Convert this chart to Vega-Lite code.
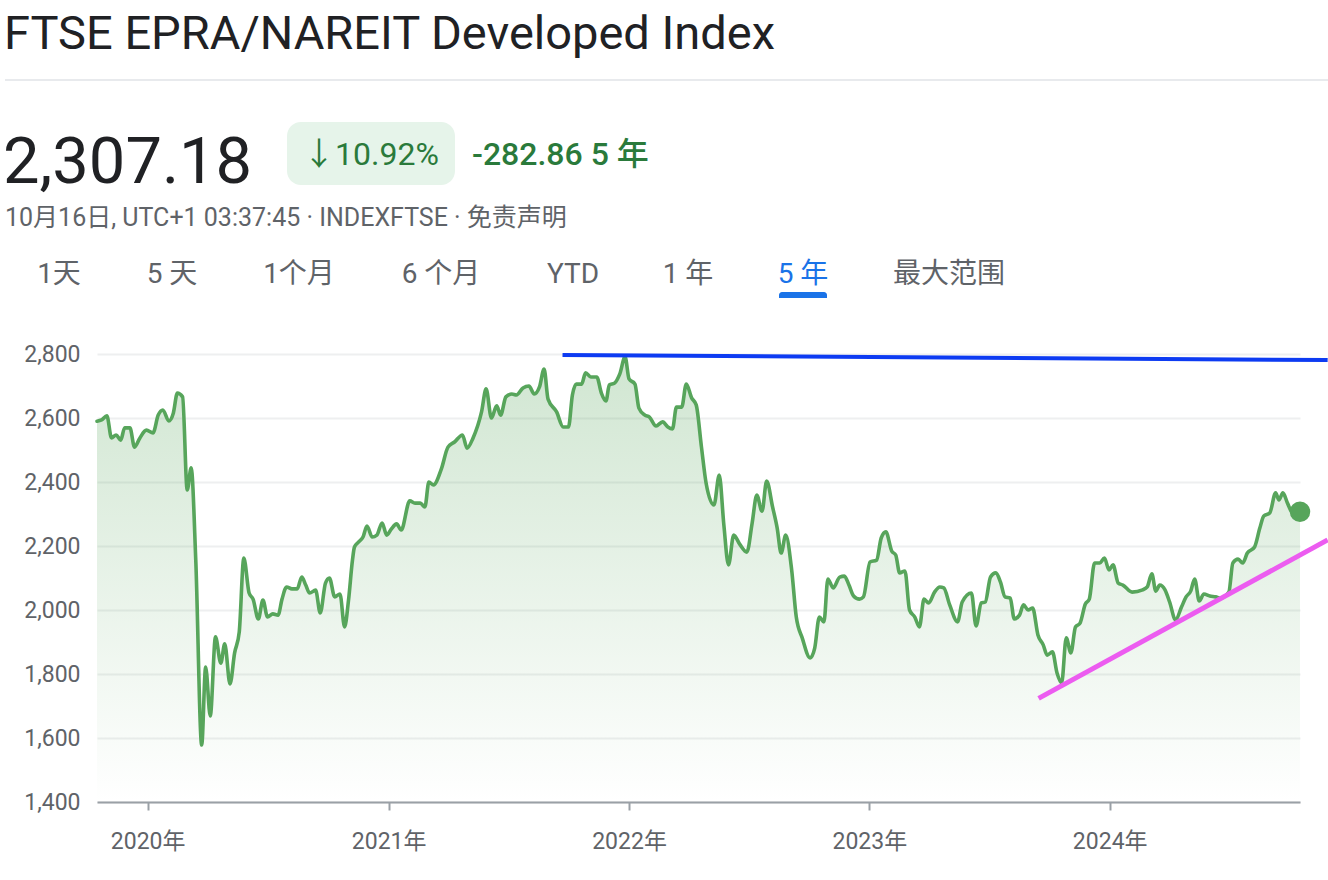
{
  "$schema": "https://vega.github.io/schema/vega-lite/v6.json",
  "width": 1203,
  "height": 448,
  "autosize": {"type": "none"},
  "padding": {"left": 97, "top": 354, "right": 28, "bottom": 78},
  "background": "#ffffff",
  "config": {
    "view": {"stroke": null},
    "font": "Roboto, Noto Sans CJK SC, sans-serif",
    "text": {"font": "Roboto, Noto Sans CJK SC, sans-serif"}
  },
  "datasets": {
    "index": [
      {"date": "2019-10-16", "value": 2590.04},
      {"date": "2019-10-23", "value": 2594},
      {"date": "2019-10-31", "value": 2607},
      {"date": "2019-11-07", "value": 2538},
      {"date": "2019-11-14", "value": 2547},
      {"date": "2019-11-21", "value": 2531},
      {"date": "2019-11-27", "value": 2569},
      {"date": "2019-12-05", "value": 2569},
      {"date": "2019-12-12", "value": 2509},
      {"date": "2019-12-20", "value": 2537},
      {"date": "2019-12-30", "value": 2562},
      {"date": "2020-01-09", "value": 2553},
      {"date": "2020-01-17", "value": 2609},
      {"date": "2020-01-24", "value": 2625},
      {"date": "2020-02-02", "value": 2591},
      {"date": "2020-02-09", "value": 2616},
      {"date": "2020-02-15", "value": 2678},
      {"date": "2020-02-23", "value": 2666},
      {"date": "2020-03-01", "value": 2375},
      {"date": "2020-03-07", "value": 2444},
      {"date": "2020-03-14", "value": 2156},
      {"date": "2020-03-23", "value": 1578},
      {"date": "2020-03-29", "value": 1822},
      {"date": "2020-04-05", "value": 1669},
      {"date": "2020-04-13", "value": 1916},
      {"date": "2020-04-21", "value": 1834},
      {"date": "2020-04-27", "value": 1894},
      {"date": "2020-05-05", "value": 1769},
      {"date": "2020-05-12", "value": 1866},
      {"date": "2020-05-19", "value": 1931},
      {"date": "2020-05-26", "value": 2162},
      {"date": "2020-06-03", "value": 2053},
      {"date": "2020-06-09", "value": 2034},
      {"date": "2020-06-17", "value": 1972},
      {"date": "2020-06-24", "value": 2031},
      {"date": "2020-07-01", "value": 1978},
      {"date": "2020-07-09", "value": 1988},
      {"date": "2020-07-17", "value": 1984},
      {"date": "2020-07-23", "value": 2034},
      {"date": "2020-07-30", "value": 2072},
      {"date": "2020-08-07", "value": 2066},
      {"date": "2020-08-15", "value": 2066},
      {"date": "2020-08-22", "value": 2103},
      {"date": "2020-08-28", "value": 2078},
      {"date": "2020-09-03", "value": 2053},
      {"date": "2020-09-12", "value": 2062},
      {"date": "2020-09-19", "value": 1991},
      {"date": "2020-09-27", "value": 2084},
      {"date": "2020-10-03", "value": 2100},
      {"date": "2020-10-11", "value": 2041},
      {"date": "2020-10-19", "value": 2050},
      {"date": "2020-10-26", "value": 1947},
      {"date": "2020-11-01", "value": 2031},
      {"date": "2020-11-07", "value": 2156},
      {"date": "2020-11-10", "value": 2197},
      {"date": "2020-11-16", "value": 2212},
      {"date": "2020-11-23", "value": 2228},
      {"date": "2020-11-29", "value": 2262},
      {"date": "2020-12-07", "value": 2228},
      {"date": "2020-12-14", "value": 2234},
      {"date": "2020-12-22", "value": 2272},
      {"date": "2020-12-29", "value": 2234},
      {"date": "2021-01-05", "value": 2253},
      {"date": "2021-01-13", "value": 2269},
      {"date": "2021-01-20", "value": 2250},
      {"date": "2021-02-02", "value": 2341},
      {"date": "2021-02-10", "value": 2334},
      {"date": "2021-02-18", "value": 2334},
      {"date": "2021-02-25", "value": 2322},
      {"date": "2021-03-03", "value": 2400},
      {"date": "2021-03-10", "value": 2391},
      {"date": "2021-03-22", "value": 2441},
      {"date": "2021-04-01", "value": 2509},
      {"date": "2021-04-11", "value": 2525},
      {"date": "2021-04-23", "value": 2547},
      {"date": "2021-04-30", "value": 2506},
      {"date": "2021-05-09", "value": 2537},
      {"date": "2021-05-22", "value": 2619},
      {"date": "2021-05-29", "value": 2691},
      {"date": "2021-06-06", "value": 2600},
      {"date": "2021-06-14", "value": 2638},
      {"date": "2021-06-20", "value": 2609},
      {"date": "2021-06-28", "value": 2666},
      {"date": "2021-07-07", "value": 2675},
      {"date": "2021-07-14", "value": 2672},
      {"date": "2021-07-24", "value": 2694},
      {"date": "2021-08-02", "value": 2700},
      {"date": "2021-08-10", "value": 2675},
      {"date": "2021-08-18", "value": 2697},
      {"date": "2021-08-25", "value": 2753},
      {"date": "2021-08-31", "value": 2659},
      {"date": "2021-09-13", "value": 2619},
      {"date": "2021-09-23", "value": 2572},
      {"date": "2021-10-01", "value": 2572},
      {"date": "2021-10-07", "value": 2672},
      {"date": "2021-10-13", "value": 2706},
      {"date": "2021-10-21", "value": 2706},
      {"date": "2021-10-27", "value": 2741},
      {"date": "2021-11-04", "value": 2728},
      {"date": "2021-11-13", "value": 2728},
      {"date": "2021-11-20", "value": 2678},
      {"date": "2021-11-27", "value": 2653},
      {"date": "2021-12-02", "value": 2703},
      {"date": "2021-12-10", "value": 2709},
      {"date": "2021-12-18", "value": 2738},
      {"date": "2021-12-26", "value": 2791},
      {"date": "2022-01-01", "value": 2722},
      {"date": "2022-01-10", "value": 2706},
      {"date": "2022-01-16", "value": 2631},
      {"date": "2022-01-25", "value": 2609},
      {"date": "2022-02-01", "value": 2603},
      {"date": "2022-02-11", "value": 2575},
      {"date": "2022-02-21", "value": 2588},
      {"date": "2022-03-01", "value": 2572},
      {"date": "2022-03-08", "value": 2566},
      {"date": "2022-03-14", "value": 2634},
      {"date": "2022-03-22", "value": 2634},
      {"date": "2022-03-29", "value": 2706},
      {"date": "2022-04-06", "value": 2663},
      {"date": "2022-04-13", "value": 2641},
      {"date": "2022-04-21", "value": 2509},
      {"date": "2022-04-28", "value": 2397},
      {"date": "2022-05-10", "value": 2328},
      {"date": "2022-05-18", "value": 2422},
      {"date": "2022-05-25", "value": 2266},
      {"date": "2022-06-01", "value": 2141},
      {"date": "2022-06-09", "value": 2234},
      {"date": "2022-06-18", "value": 2206},
      {"date": "2022-06-29", "value": 2181},
      {"date": "2022-07-07", "value": 2272},
      {"date": "2022-07-14", "value": 2359},
      {"date": "2022-07-22", "value": 2309},
      {"date": "2022-07-29", "value": 2403},
      {"date": "2022-08-07", "value": 2322},
      {"date": "2022-08-14", "value": 2256},
      {"date": "2022-08-20", "value": 2178},
      {"date": "2022-08-27", "value": 2234},
      {"date": "2022-09-05", "value": 2125},
      {"date": "2022-09-12", "value": 1978},
      {"date": "2022-09-21", "value": 1913},
      {"date": "2022-10-03", "value": 1850},
      {"date": "2022-10-10", "value": 1881},
      {"date": "2022-10-17", "value": 1978},
      {"date": "2022-10-24", "value": 1963},
      {"date": "2022-10-30", "value": 2097},
      {"date": "2022-11-07", "value": 2069},
      {"date": "2022-11-17", "value": 2103},
      {"date": "2022-11-24", "value": 2106},
      {"date": "2022-12-01", "value": 2078},
      {"date": "2022-12-08", "value": 2044},
      {"date": "2022-12-17", "value": 2034},
      {"date": "2022-12-23", "value": 2041},
      {"date": "2023-01-02", "value": 2150},
      {"date": "2023-01-12", "value": 2156},
      {"date": "2023-01-19", "value": 2225},
      {"date": "2023-01-26", "value": 2244},
      {"date": "2023-02-04", "value": 2184},
      {"date": "2023-02-10", "value": 2172},
      {"date": "2023-02-16", "value": 2116},
      {"date": "2023-02-24", "value": 2122},
      {"date": "2023-03-03", "value": 2000},
      {"date": "2023-03-11", "value": 1978},
      {"date": "2023-03-18", "value": 1947},
      {"date": "2023-03-25", "value": 2034},
      {"date": "2023-04-01", "value": 2022},
      {"date": "2023-04-10", "value": 2056},
      {"date": "2023-04-18", "value": 2072},
      {"date": "2023-04-24", "value": 2069},
      {"date": "2023-05-03", "value": 2016},
      {"date": "2023-05-15", "value": 1963},
      {"date": "2023-05-22", "value": 2025},
      {"date": "2023-06-05", "value": 2053},
      {"date": "2023-06-12", "value": 1950},
      {"date": "2023-06-20", "value": 2022},
      {"date": "2023-06-26", "value": 2025},
      {"date": "2023-07-04", "value": 2103},
      {"date": "2023-07-12", "value": 2116},
      {"date": "2023-07-19", "value": 2088},
      {"date": "2023-07-26", "value": 2041},
      {"date": "2023-08-03", "value": 2037},
      {"date": "2023-08-09", "value": 1972},
      {"date": "2023-08-17", "value": 1984},
      {"date": "2023-08-23", "value": 2016},
      {"date": "2023-08-30", "value": 2000},
      {"date": "2023-09-06", "value": 2006},
      {"date": "2023-09-14", "value": 1922},
      {"date": "2023-09-22", "value": 1891},
      {"date": "2023-09-28", "value": 1859},
      {"date": "2023-10-06", "value": 1869},
      {"date": "2023-10-13", "value": 1803},
      {"date": "2023-10-20", "value": 1772},
      {"date": "2023-10-27", "value": 1913},
      {"date": "2023-11-03", "value": 1866},
      {"date": "2023-11-10", "value": 1947},
      {"date": "2023-11-17", "value": 1959},
      {"date": "2023-11-25", "value": 2019},
      {"date": "2023-12-01", "value": 2034},
      {"date": "2023-12-09", "value": 2147},
      {"date": "2023-12-17", "value": 2147},
      {"date": "2023-12-24", "value": 2162},
      {"date": "2023-12-31", "value": 2125},
      {"date": "2024-01-06", "value": 2141},
      {"date": "2024-01-14", "value": 2084},
      {"date": "2024-01-21", "value": 2078},
      {"date": "2024-02-04", "value": 2056},
      {"date": "2024-02-20", "value": 2063},
      {"date": "2024-02-27", "value": 2072},
      {"date": "2024-03-05", "value": 2113},
      {"date": "2024-03-11", "value": 2059},
      {"date": "2024-03-17", "value": 2078},
      {"date": "2024-03-25", "value": 2063},
      {"date": "2024-04-01", "value": 2025},
      {"date": "2024-04-10", "value": 1969},
      {"date": "2024-04-19", "value": 2009},
      {"date": "2024-04-26", "value": 2041},
      {"date": "2024-05-03", "value": 2059},
      {"date": "2024-05-09", "value": 2097},
      {"date": "2024-05-16", "value": 2028},
      {"date": "2024-05-23", "value": 2050},
      {"date": "2024-06-01", "value": 2044},
      {"date": "2024-06-10", "value": 2041},
      {"date": "2024-06-17", "value": 2037},
      {"date": "2024-06-30", "value": 2056},
      {"date": "2024-07-06", "value": 2147},
      {"date": "2024-07-14", "value": 2159},
      {"date": "2024-07-21", "value": 2147},
      {"date": "2024-07-28", "value": 2178},
      {"date": "2024-08-08", "value": 2197},
      {"date": "2024-08-16", "value": 2256},
      {"date": "2024-08-22", "value": 2294},
      {"date": "2024-08-31", "value": 2303},
      {"date": "2024-09-09", "value": 2366},
      {"date": "2024-09-14", "value": 2344},
      {"date": "2024-09-20", "value": 2366},
      {"date": "2024-09-27", "value": 2334},
      {"date": "2024-10-05", "value": 2303},
      {"date": "2024-10-16", "value": 2307.18}
    ],
    "resistance": [
      {"date": "2021-09-22", "value": 2797},
      {"date": "2024-11-27", "value": 2781}
    ],
    "support": [
      {"date": "2023-09-15", "value": 1724},
      {"date": "2024-11-27", "value": 2219}
    ]
  },
  "layer": [
    {
      "data": {"name": "index"},
      "mark": {
        "type": "area",
        "interpolate": "monotone",
        "color": {
          "gradient": "linear",
          "x1": 0, "y1": 0, "x2": 0, "y2": 1,
          "stops": [
            {"offset": 0, "color": "rgba(87,165,91,0.28)"},
            {"offset": 1, "color": "rgba(87,165,91,0)"}
          ]
        }
      },
      "encoding": {
        "x": {
          "field": "date",
          "type": "temporal",
          "scale": {
            "type": "utc",
            "domain": [
              {"year": 2019, "month": 10, "date": 16, "utc": true},
              {"year": 2024, "month": 10, "date": 16, "utc": true}
            ]
          },
          "axis": {
            "title": null,
            "grid": false,
            "values": [
              {"year": 2020, "month": 1, "date": 1, "utc": true},
              {"year": 2021, "month": 1, "date": 1, "utc": true},
              {"year": 2022, "month": 1, "date": 1, "utc": true},
              {"year": 2023, "month": 1, "date": 1, "utc": true},
              {"year": 2024, "month": 1, "date": 1, "utc": true}
            ],
            "labelExpr": "utcFormat(datum.value, '%Y') + '年'",
            "domainColor": "#9aa0a6",
            "domainWidth": 2,
            "tickColor": "#9aa0a6",
            "tickWidth": 2,
            "tickSize": 8,
            "labelFontSize": 23,
            "labelColor": "#5f6368",
            "labelPadding": 20,
            "labelFont": "Roboto, Noto Sans CJK SC, sans-serif"
          }
        },
        "y": {
          "field": "value",
          "type": "quantitative",
          "scale": {"domain": [1400, 2800], "zero": false, "nice": false},
          "axis": {
            "title": null,
            "values": [1400, 1600, 1800, 2000, 2200, 2400, 2600, 2800],
            "labelExpr": "format(datum.value, ',.0f')",
            "domain": false,
            "ticks": false,
            "grid": true,
            "gridColor": "#eeeff0",
            "gridWidth": 2,
            "labelFontSize": 23,
            "labelColor": "#5f6368",
            "labelPadding": 17,
            "labelFont": "Roboto, sans-serif"
          }
        },
        "y2": {"datum": 1400}
      }
    },
    {
      "data": {"name": "index"},
      "mark": {"type": "line", "interpolate": "monotone", "color": "#57a55b", "strokeWidth": 3.6, "strokeCap": "round", "strokeJoin": "round"},
      "encoding": {
        "x": {"field": "date", "type": "temporal"},
        "y": {"field": "value", "type": "quantitative"}
      }
    },
    {
      "data": {"name": "resistance"},
      "mark": {"type": "line", "color": "#0d3bf2", "strokeWidth": 4, "clip": false},
      "encoding": {
        "x": {"field": "date", "type": "temporal"},
        "y": {"field": "value", "type": "quantitative"}
      }
    },
    {
      "data": {"name": "support"},
      "mark": {"type": "line", "color": "#ec5cf0", "strokeWidth": 5, "clip": false},
      "encoding": {
        "x": {"field": "date", "type": "temporal"},
        "y": {"field": "value", "type": "quantitative"}
      }
    },
    {
      "data": {"name": "index"},
      "transform": [{"filter": "datum.value == 2307.18"}],
      "mark": {"type": "circle", "color": "#57a55b", "opacity": 1, "size": 420},
      "encoding": {
        "x": {"field": "date", "type": "temporal"},
        "y": {"field": "value", "type": "quantitative"}
      }
    },
    {
      "data": {"values": [{}]},
      "mark": {"type": "text", "text": "FTSE EPRA/NAREIT Developed Index", "fontSize": 47, "color": "#202124", "align": "left", "baseline": "alphabetic"},
      "encoding": {"x": {"value": -93}, "y": {"value": -305}}
    },
    {
      "data": {"values": [{}]},
      "mark": {"type": "rule", "color": "#e8eaed", "strokeWidth": 2},
      "encoding": {"x": {"value": -92}, "x2": {"value": 1231}, "y": {"value": -274}}
    },
    {
      "data": {"values": [{}]},
      "mark": {"type": "text", "text": "2,307.18", "fontSize": 65, "color": "#202124", "align": "left", "baseline": "alphabetic"},
      "encoding": {"x": {"value": -94}, "y": {"value": -171}}
    },
    {
      "data": {"values": [{}]},
      "mark": {"type": "rect", "color": "#e6f4ea", "cornerRadius": 14},
      "encoding": {"x": {"value": 190}, "x2": {"value": 358}, "y": {"value": -232}, "y2": {"value": -169}}
    },
    {
      "data": {"values": [{}]},
      "mark": {"type": "text", "text": "↓10.92%", "fontSize": 32, "fontWeight": 400, "color": "#2a7a3b", "align": "center", "baseline": "alphabetic"},
      "encoding": {"x": {"value": 274}, "y": {"value": -189}}
    },
    {
      "data": {"values": [{}]},
      "mark": {"type": "text", "text": "-282.86 5 年", "fontSize": 32, "fontWeight": 500, "color": "#2a7a3b", "align": "left", "baseline": "alphabetic"},
      "encoding": {"x": {"value": 375}, "y": {"value": -189}}
    },
    {
      "data": {"values": [{}]},
      "mark": {"type": "text", "text": "10月16日, UTC+1 03:37:45 · INDEXFTSE · 免责声明", "fontSize": 25, "color": "#5f6368", "align": "left", "baseline": "alphabetic"},
      "encoding": {"x": {"value": -92}, "y": {"value": -128}}
    },
    {
      "data": {"values": [{}]},
      "mark": {"type": "text", "text": "1天", "fontSize": 28, "fontWeight": 400, "color": "#5f6368", "align": "center", "baseline": "middle"},
      "encoding": {"x": {"value": -38}, "y": {"value": -79}}
    },
    {
      "data": {"values": [{}]},
      "mark": {"type": "text", "text": "5 天", "fontSize": 28, "fontWeight": 400, "color": "#5f6368", "align": "center", "baseline": "middle"},
      "encoding": {"x": {"value": 75}, "y": {"value": -79}}
    },
    {
      "data": {"values": [{}]},
      "mark": {"type": "text", "text": "1个月", "fontSize": 28, "fontWeight": 400, "color": "#5f6368", "align": "center", "baseline": "middle"},
      "encoding": {"x": {"value": 202}, "y": {"value": -79}}
    },
    {
      "data": {"values": [{}]},
      "mark": {"type": "text", "text": "6 个月", "fontSize": 28, "fontWeight": 400, "color": "#5f6368", "align": "center", "baseline": "middle"},
      "encoding": {"x": {"value": 344}, "y": {"value": -79}}
    },
    {
      "data": {"values": [{}]},
      "mark": {"type": "text", "text": "YTD", "fontSize": 28, "fontWeight": 400, "color": "#5f6368", "align": "center", "baseline": "middle"},
      "encoding": {"x": {"value": 476}, "y": {"value": -79}}
    },
    {
      "data": {"values": [{}]},
      "mark": {"type": "text", "text": "1 年", "fontSize": 28, "fontWeight": 400, "color": "#5f6368", "align": "center", "baseline": "middle"},
      "encoding": {"x": {"value": 591}, "y": {"value": -79}}
    },
    {
      "data": {"values": [{}]},
      "mark": {"type": "text", "text": "5 年", "fontSize": 28, "fontWeight": 400, "color": "#1a73e8", "align": "center", "baseline": "middle"},
      "encoding": {"x": {"value": 706}, "y": {"value": -79}}
    },
    {
      "data": {"values": [{}]},
      "mark": {"type": "text", "text": "最大范围", "fontSize": 28, "fontWeight": 400, "color": "#5f6368", "align": "center", "baseline": "middle"},
      "encoding": {"x": {"value": 852}, "y": {"value": -79}}
    },
    {
      "data": {"values": [{}]},
      "mark": {"type": "rect", "color": "#1a73e8", "cornerRadiusTopLeft": 4, "cornerRadiusTopRight": 4},
      "encoding": {"x": {"value": 682}, "x2": {"value": 730}, "y": {"value": -62}, "y2": {"value": -56}}
    }
  ]
}
